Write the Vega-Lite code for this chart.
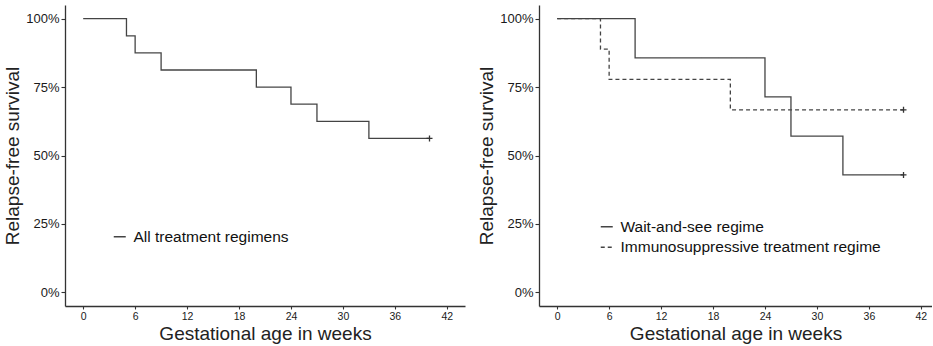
{
  "$schema": "https://vega.github.io/schema/vega-lite/v6.json",
  "background": "white",
  "padding": {"left": 3, "top": 5, "right": 0, "bottom": 0},
  "bounds": "flush",
  "spacing": 74,
  "config": {
    "font": "Liberation Sans",
    "view": {"stroke": null},
    "axis": {
      "grid": false,
      "domainColor": "#333333",
      "domainWidth": 1.3,
      "tickColor": "#333333",
      "tickWidth": 1.1,
      "labelColor": "#1a1a1a",
      "titleColor": "#222222",
      "titleFontWeight": "normal",
      "labelFont": "Liberation Sans",
      "titleFont": "Liberation Sans"
    },
    "legend": {
      "labelFont": "Liberation Sans",
      "labelColor": "#111111",
      "labelLimit": 0
    }
  },
  "datasets": {
    "km": [
      {"panel": "A", "group": "All treatment regimens", "t": 0, "s": 1.0},
      {"panel": "A", "group": "All treatment regimens", "t": 5, "s": 0.9375},
      {"panel": "A", "group": "All treatment regimens", "t": 6, "s": 0.875},
      {"panel": "A", "group": "All treatment regimens", "t": 9, "s": 0.8125},
      {"panel": "A", "group": "All treatment regimens", "t": 20, "s": 0.75},
      {"panel": "A", "group": "All treatment regimens", "t": 24, "s": 0.6875},
      {"panel": "A", "group": "All treatment regimens", "t": 27, "s": 0.625},
      {"panel": "A", "group": "All treatment regimens", "t": 33, "s": 0.5625},
      {"panel": "A", "group": "All treatment regimens", "t": 40, "s": 0.5625},
      {"panel": "B", "group": "Wait-and-see regime", "t": 0, "s": 1.0},
      {"panel": "B", "group": "Wait-and-see regime", "t": 9, "s": 0.857},
      {"panel": "B", "group": "Wait-and-see regime", "t": 24, "s": 0.714},
      {"panel": "B", "group": "Wait-and-see regime", "t": 27, "s": 0.571},
      {"panel": "B", "group": "Wait-and-see regime", "t": 33, "s": 0.429},
      {"panel": "B", "group": "Wait-and-see regime", "t": 40, "s": 0.429},
      {"panel": "B", "group": "Immunosuppressive treatment regime", "t": 0, "s": 1.0},
      {"panel": "B", "group": "Immunosuppressive treatment regime", "t": 5, "s": 0.889},
      {"panel": "B", "group": "Immunosuppressive treatment regime", "t": 6, "s": 0.778},
      {"panel": "B", "group": "Immunosuppressive treatment regime", "t": 20, "s": 0.667},
      {"panel": "B", "group": "Immunosuppressive treatment regime", "t": 40, "s": 0.667}
    ],
    "censor": [
      {"panel": "A", "group": "All treatment regimens", "t": 40, "s": 0.5625},
      {"panel": "B", "group": "Wait-and-see regime", "t": 40, "s": 0.429},
      {"panel": "B", "group": "Immunosuppressive treatment regime", "t": 40, "s": 0.667}
    ]
  },
  "resolve": {"scale": {"strokeDash": "independent", "x": "independent", "y": "independent"}, "legend": {"strokeDash": "independent"}},
  "hconcat": [
    {
      "width": 400,
      "height": 301,
      "layer": [
        {
          "data": {"name": "km"},
          "transform": [{"filter": "datum.panel === 'A'"}],
          "mark": {"type": "line", "interpolate": "step-after", "color": "#444444", "strokeWidth": 1.3},
          "encoding": {
            "x": {"field": "t", "type": "quantitative", "scale": {"domain": [-2.1, 44.1], "nice": false, "zero": false},
              "axis": {"values": [0, 6, 12, 18, 24, 30, 36, 42], "tickSize": 3, "labelPadding": 2, "labelFontSize": 10.5, "title": "Gestational age in weeks", "titleFontSize": 19, "titlePadding": 3}},
            "y": {"field": "s", "type": "quantitative", "scale": {"domain": [-0.05, 1.05], "nice": false, "zero": false},
              "axis": {"values": [0, 0.25, 0.5, 0.75, 1], "format": ".0%", "tickSize": 4, "labelPadding": 2, "labelFontSize": 13, "title": "Relapse-free survival", "titleFontSize": 19, "titlePadding": 3}},
            "strokeDash": {"field": "group", "type": "nominal",
              "scale": {"domain": ["All treatment regimens"], "range": [[1, 0]]},
              "legend": {"title": null, "orient": "none", "legendX": 47, "legendY": 224, "symbolType": "stroke", "symbolSize": 144, "symbolStrokeWidth": 1.3, "symbolStrokeColor": "#444444", "labelFontSize": 15.5, "labelOffset": 6, "padding": 0}}
          }
        },
        {
          "data": {"name": "censor"},
          "transform": [{"filter": "datum.panel === 'A'"}],
          "mark": {"type": "point", "shape": "M-1,0L1,0M0,-1L0,1", "filled": false, "color": "#333333", "strokeWidth": 1.3, "size": 36, "opacity": 1},
          "encoding": {
            "x": {"field": "t", "type": "quantitative"},
            "y": {"field": "s", "type": "quantitative"}
          }
        }
      ]
    },
    {
      "width": 393,
      "height": 301,
      "layer": [
        {
          "data": {"name": "km"},
          "transform": [{"filter": "datum.panel === 'B'"}],
          "mark": {"type": "line", "interpolate": "step-after", "color": "#444444", "strokeWidth": 1.3},
          "encoding": {
            "x": {"field": "t", "type": "quantitative", "scale": {"domain": [-2.1, 43.29], "nice": false, "zero": false},
              "axis": {"values": [0, 6, 12, 18, 24, 30, 36, 42], "tickSize": 3, "labelPadding": 2, "labelFontSize": 10.5, "title": "Gestational age in weeks", "titleFontSize": 19, "titlePadding": 3}},
            "y": {"field": "s", "type": "quantitative", "scale": {"domain": [-0.05, 1.05], "nice": false, "zero": false},
              "axis": {"values": [0, 0.25, 0.5, 0.75, 1], "format": ".0%", "tickSize": 4, "labelPadding": 2, "labelFontSize": 13, "title": "Relapse-free survival", "titleFontSize": 19, "titlePadding": 3}},
            "strokeDash": {"field": "group", "type": "nominal",
              "scale": {"domain": ["Wait-and-see regime", "Immunosuppressive treatment regime"], "range": [[1, 0], [4, 3]]},
              "legend": {"title": null, "orient": "none", "legendX": 60, "legendY": 214, "symbolType": "stroke", "symbolSize": 144, "symbolStrokeWidth": 1.3, "symbolStrokeColor": "#444444", "labelFontSize": 15.5, "labelOffset": 6, "rowPadding": 3.5, "padding": 0}}
          }
        },
        {
          "data": {"name": "censor"},
          "transform": [{"filter": "datum.panel === 'B'"}],
          "mark": {"type": "point", "shape": "M-1,0L1,0M0,-1L0,1", "filled": false, "color": "#333333", "strokeWidth": 1.3, "size": 36, "opacity": 1},
          "encoding": {
            "x": {"field": "t", "type": "quantitative"},
            "y": {"field": "s", "type": "quantitative"}
          }
        }
      ]
    }
  ]
}
